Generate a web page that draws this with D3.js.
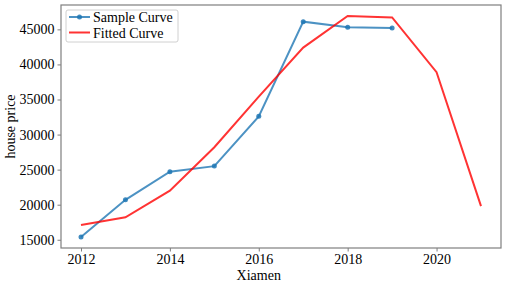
<!DOCTYPE html>
<html>
<head>
<meta charset="utf-8">
<script src="https://cdn.jsdelivr.net/npm/d3@7"></script>
<style>
    body { margin: 0; background: #fff; }
    svg { display: block; font-family: "Liberation Serif", "Times New Roman", serif; }
</style>
</head>
<body>
<div id="chart"></div>
<script>
// house price data, Xiamen
var years = [2012, 2013, 2014, 2015, 2016, 2017, 2018, 2019];
var sampleValues = [15400, 20700, 24700, 25500, 32600, 46100, 45300, 45200];
var fitYears = [2012, 2013, 2014, 2015, 2016, 2017, 2018, 2019, 2020, 2021];
var fitValues = [17100, 18200, 22000, 28200, 35400, 42400, 46900, 46700, 38900, 19800];
var xTicks = [2012, 2014, 2016, 2018, 2020];
var yTicks = [15000, 20000, 25000, 30000, 35000, 40000, 45000];
var seriesNames = ['Sample Curve', 'Fitted Curve'];

var width = 505;
var height = 282;
var margin = { top: 5, right: 4, bottom: 34, left: 61 };

var svg = d3.select('#chart')
    .append('svg')
    .attr('width', width)
    .attr('height', height);

// matplotlib style 5% margins
var xMin = d3.min(fitYears), xMax = d3.max(fitYears);
var xPad = (xMax - xMin) * 0.05;
var allY = sampleValues.concat(fitValues);
var yMin = d3.min(allY), yMax = d3.max(allY);
var yPad = (yMax - yMin) * 0.05;

var x = d3.scaleLinear()
    .domain([xMin - xPad, xMax + xPad])
    .range([margin.left, width - margin.right]);

var y = d3.scaleLinear()
    .domain([yMin - yPad, yMax + yPad])
    .range([height - margin.bottom, margin.top]);

var axisColor = '#7f7f7f';

var line = d3.line()
    .x(function (d) { return x(d[0]); })
    .y(function (d) { return y(d[1]); });

var sampleData = years.map(function (d, i) { return [d, sampleValues[i]]; });
var fitData = fitYears.map(function (d, i) { return [d, fitValues[i]]; });

svg.append('path')
    .datum(sampleData)
    .attr('fill', 'none')
    .attr('stroke', '#1f77b4')
    .attr('stroke-opacity', 0.8)
    .attr('stroke-width', 2)
    .attr('d', line);

svg.selectAll('circle.sample')
    .data(sampleData)
    .enter()
    .append('circle')
    .attr('class', 'sample')
    .attr('cx', function (d) { return x(d[0]); })
    .attr('cy', function (d) { return y(d[1]); })
    .attr('r', 2.5)
    .attr('fill', '#1f77b4')
    .attr('fill-opacity', 0.85);

svg.append('path')
    .datum(fitData)
    .attr('fill', 'none')
    .attr('stroke', '#ff0000')
    .attr('stroke-opacity', 0.8)
    .attr('stroke-width', 2)
    .attr('d', line);

// axes
var xAxis = svg.append('g')
    .attr('transform', 'translate(0,' + (height - margin.bottom) + ')')
    .call(d3.axisBottom(x).tickValues(xTicks).tickFormat(d3.format('d')).tickSizeOuter(0).tickSize(3.5).tickPadding(2.5));

var yAxis = svg.append('g')
    .attr('transform', 'translate(' + margin.left + ',0)')
    .call(d3.axisLeft(y).tickValues(yTicks).tickFormat(d3.format('d')).tickSizeOuter(0).tickSize(3.5).tickPadding(3));

[xAxis, yAxis].forEach(function (a) {
    a.select('.domain').remove();
    a.selectAll('line').attr('stroke', axisColor);
    a.selectAll('text')
        .attr('fill', '#000')
        .style('font-size', '14px')
        .style('font-family', '"Liberation Serif", "Times New Roman", serif');
});

// frame
svg.append('rect')
    .attr('x', margin.left)
    .attr('y', margin.top)
    .attr('width', width - margin.left - margin.right)
    .attr('height', height - margin.top - margin.bottom)
    .attr('fill', 'none')
    .attr('stroke', axisColor)
    .attr('stroke-width', 1.2);

// labels (x label sits under the 2016 tick in the original)
svg.append('text')
    .attr('x', x(2016))
    .attr('y', 279.5)
    .attr('text-anchor', 'middle')
    .style('font-size', '14px')
    .text('Xiamen');

svg.append('text')
    .attr('transform', 'translate(15,' + ((margin.top + height - margin.bottom) / 2) + ') rotate(-90)')
    .attr('text-anchor', 'middle')
    .style('font-size', '14px')
    .text('house price');

// legend
var legend = svg.append('g').attr('transform', 'translate(66,10)');

legend.append('rect')
    .attr('width', 112)
    .attr('height', 32)
    .attr('rx', 2)
    .attr('fill', '#fff')
    .attr('fill-opacity', 0.8)
    .attr('stroke', '#d0d0d0');

var colors = ['#1f77b4', '#ff0000'];
seriesNames.forEach(function (name, i) {
    var ly = 7 + i * 15.5;
    legend.append('line')
        .attr('x1', 3).attr('x2', 24)
        .attr('y1', ly).attr('y2', ly)
        .attr('stroke', colors[i])
        .attr('stroke-opacity', 0.8)
        .attr('stroke-width', 2);
    if (i === 0) {
        legend.append('circle')
            .attr('cx', 13.5).attr('cy', ly).attr('r', 2.5)
            .attr('fill', colors[i]).attr('fill-opacity', 0.85);
    }
    legend.append('text')
        .attr('x', 27)
        .attr('y', ly + 5)
        .style('font-size', '14px')
        .text(name);
});
</script>
</body>
</html>
